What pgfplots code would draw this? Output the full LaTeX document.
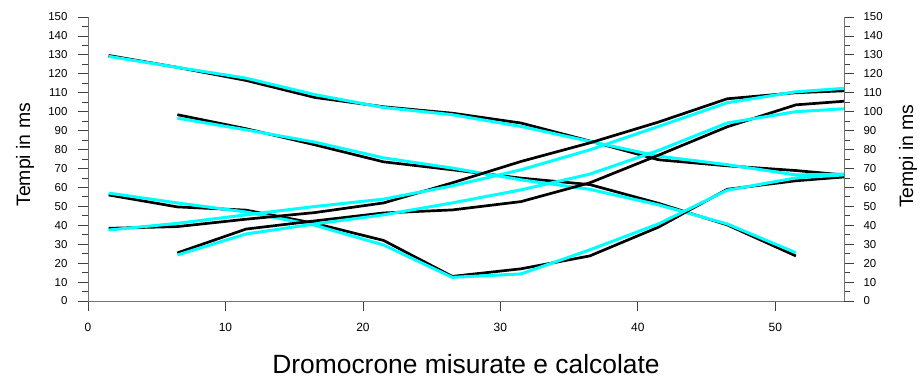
\documentclass[border=0pt]{standalone}
\usepackage{pgfplots}
\pgfplotsset{compat=1.18}
\usepackage{fontspec}
\setmainfont{Liberation Sans}

\definecolor{calc}{RGB}{0,255,255}

\pgfplotsset{
  dromo/.style={
    scale only axis, width=756bp, height=284bp,
    xmin=0, xmax=55, ymin=0, ymax=150,
    at={(88bp,82bp)}, anchor=south west,
    /pgf/number format/assume math mode=true,
    axis line style={draw=black!55, line width=0.9bp, -},
    every tick/.style={draw=black!75, line width=0.8bp},
    major tick length=10bp, minor tick length=6bp,
    ytick={0,10,...,150}, minor ytick={5,15,...,145},
    clip=false,
  },
  meas/.style={draw=black, line width=2.7bp, line join=round, no marks},
  comp/.style={draw=calc, line width=3bp, line join=round, no marks},
}

\begin{document}
\begin{tikzpicture}
\begin{axis}[dromo,
  axis x line*=bottom, axis y line*=left, tick align=outside,
  xtick={0,10,...,50},
  xticklabel style={font=\fontsize{12}{13}\selectfont, yshift=-9bp},
  yticklabel style={font=\fontsize{11.5}{12}\selectfont, xshift=-7bp},
  ylabel={Tempi in ms},
  every axis y label/.style={at={(axis description cs:-0.0833,0.515)}, rotate=90, anchor=center, font=\fontsize{19.5}{22}\selectfont},
  xlabel={Dromocrone misurate e calcolate},
  every axis x label/.style={at={(axis description cs:0.5,0)}, anchor=base, yshift=-72bp, font=\fontsize{26.5}{29}\selectfont},
]
% shot 1 (reverse, far)
\addplot[meas] coordinates {(1.5,129.7)(6.5,123.4)(11.5,116.5)(16.5,107.5)(21.5,102.6)(26.5,99.2)(31.5,94)(36.5,84.5)(41.5,74.6)(46.5,71.4)(51.5,68.9)(55,66.6)};
\addplot[comp] coordinates {(1.5,129.2)(6.5,123.4)(11.5,117.7)(16.5,109)(21.5,102.2)(26.5,98.4)(31.5,92.2)(36.5,84.3)(41.5,76.5)(46.5,72)(51.5,66.6)(55,67)};
% shot 2 (reverse, end)
\addplot[meas] coordinates {(6.5,98.4)(11.5,91)(16.5,82.5)(21.5,73.5)(26.5,69.3)(31.5,64.9)(36.5,61.5)(41.5,51.6)(46.5,40.2)(51.5,23.8)};
\addplot[comp] coordinates {(6.5,96.6)(11.5,90.4)(16.5,83.9)(21.5,75.6)(26.5,70.2)(31.5,64)(36.5,59)(41.5,50.8)(46.5,40.7)(51.5,25.5)};
% shot 3 (centre)
\addplot[meas] coordinates {(1.5,56)(6.5,49.7)(11.5,48)(16.5,41)(21.5,32)(26.5,13)(31.5,17)(36.5,23.8)(41.5,39)(46.5,59)(51.5,63.5)(55,65.5)};
\addplot[comp] coordinates {(1.5,57)(6.5,51.8)(11.5,47)(16.5,40)(21.5,29.6)(26.5,12.5)(31.5,14.3)(36.5,27)(41.5,40.7)(46.5,58.5)(51.5,65)(55,66.6)};
% shot 4 (direct, far)
\addplot[meas] coordinates {(1.5,38.4)(6.5,39.3)(11.5,43.2)(16.5,46.7)(21.5,51.8)(26.5,62.4)(31.5,73.7)(36.5,83.5)(41.5,94.5)(46.5,106.8)(51.5,110)(55,111)};
\addplot[comp] coordinates {(1.5,37.5)(6.5,41)(11.5,45.5)(16.5,49.9)(21.5,53.8)(26.5,60.8)(31.5,69.3)(36.5,79.8)(41.5,92.2)(46.5,104.7)(51.5,110.5)(55,112.3)};
% shot 5 (direct, start)
\addplot[meas] coordinates {(6.5,25.4)(11.5,38)(16.5,42.3)(21.5,46.5)(26.5,48.1)(31.5,52.5)(36.5,62.4)(41.5,77)(46.5,92)(51.5,103.6)(55,105.5)};
\addplot[comp] coordinates {(6.5,24.3)(11.5,35.4)(16.5,40.7)(21.5,45.5)(26.5,51.8)(31.5,58.7)(36.5,67)(41.5,79.5)(46.5,94)(51.5,100)(55,101.5)};
\end{axis}

\begin{axis}[dromo,
  axis x line=none, axis y line*=right, tick align=outside,
  yticklabel style={font=\fontsize{11.5}{12}\selectfont, xshift=6bp},
  ylabel={Tempi in ms},
  every axis y label/.style={at={(axis description cs:1.0847,0.51)}, rotate=90, anchor=center, font=\fontsize{19.5}{22}\selectfont},
]
\end{axis}

\pgfresetboundingbox
\path[use as bounding box] (0,0) rectangle (922bp,383bp);
\end{tikzpicture}
\end{document}
